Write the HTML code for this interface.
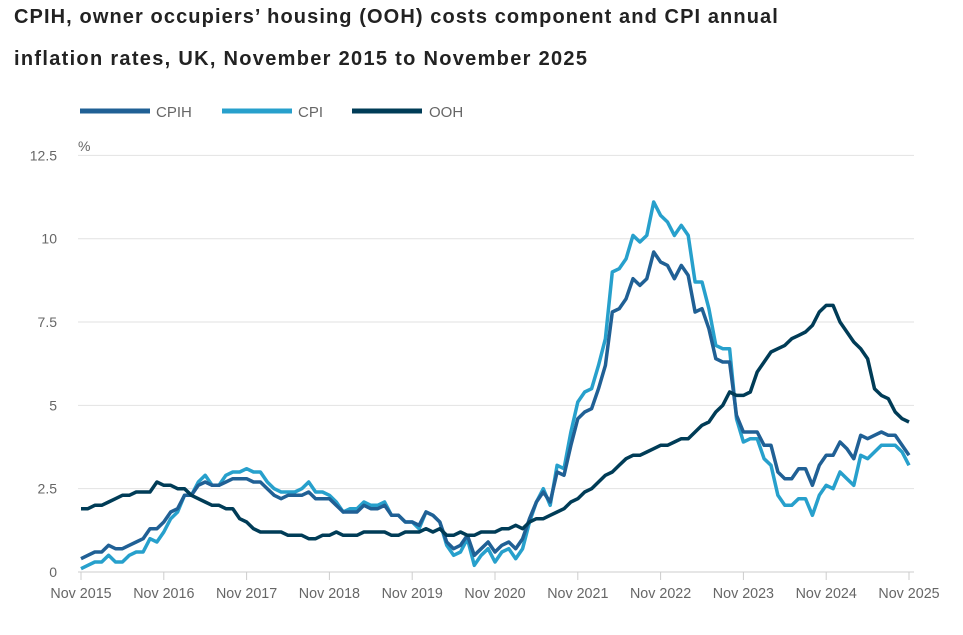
<!DOCTYPE html>
<html><head><meta charset="utf-8"><style>
body{margin:0;background:#fff;font-family:"Liberation Sans",sans-serif;}
.t{position:absolute;left:14px;font-weight:bold;font-size:20px;color:#222;letter-spacing:1.1px;}
</style></head><body>
<div class="t" style="top:6px">CPIH, owner occupiers’ housing (OOH) costs component and CPI annual</div>
<div class="t" style="top:48px;letter-spacing:1.3px">inflation rates, UK, November 2015 to November 2025</div>
<svg id="s" width="963" height="635" style="position:absolute;left:0;top:0" font-family="Liberation Sans, sans-serif">
<g stroke-width="5">
<line x1="80" y1="111" x2="150" y2="111" stroke="#206095"/>
<line x1="222" y1="111" x2="292" y2="111" stroke="#27a0cc"/>
<line x1="352" y1="111" x2="422" y2="111" stroke="#003c57"/>
</g>
<g font-size="15" fill="#666">
<text x="156" y="117">CPIH</text><text x="298" y="117">CPI</text><text x="429" y="117">OOH</text>
<text x="78" y="151" font-size="14">%</text>
</g>
</svg>
<script>
var s=document.getElementById('s'),NS='http://www.w3.org/2000/svg';
function el(t,a,txt){var e=document.createElementNS(NS,t);for(var k in a)e.setAttribute(k,a[k]);if(txt!=null)e.textContent=txt;s.appendChild(e);return e;}
var X0=81,XS=6.9,Y0=572,YS=33.33;
[0,2.5,5,7.5,10,12.5].forEach(function(v,i){var y=Y0-v*YS;
 el('line',{x1:78,x2:914,y1:y,y2:y,stroke:i?'#e2e2e2':'#ccc','stroke-width':1});
 el('text',{x:57,y:y+5,'text-anchor':'end','font-size':14,fill:'#666'},String(v));});
for(var i=0;i<=10;i++){var x=X0+i*12*XS;
 el('line',{x1:x,x2:x,y1:572,y2:580,stroke:'#ccc'});
 el('text',{x:x,y:598,'text-anchor':'middle','font-size':14.3,fill:'#666'},'Nov '+(2015+i));}
var cpi=[0.1,0.2,0.3,0.3,0.5,0.3,0.3,0.5,0.6,0.6,1.0,0.9,1.2,1.6,1.8,2.3,2.3,2.7,2.9,2.6,2.6,2.9,3.0,3.0,3.1,3.0,3.0,2.7,2.5,2.4,2.4,2.4,2.5,2.7,2.4,2.4,2.3,2.1,1.8,1.9,1.9,2.1,2.0,2.0,2.1,1.7,1.7,1.5,1.5,1.3,1.8,1.7,1.5,0.8,0.5,0.6,1.0,0.2,0.5,0.7,0.3,0.6,0.7,0.4,0.7,1.5,2.1,2.5,2.0,3.2,3.1,4.2,5.1,5.4,5.5,6.2,7.0,9.0,9.1,9.4,10.1,9.9,10.1,11.1,10.7,10.5,10.1,10.4,10.1,8.7,8.7,7.9,6.8,6.7,6.7,4.6,3.9,4.0,4.0,3.4,3.2,2.3,2.0,2.0,2.2,2.2,1.7,2.3,2.6,2.5,3.0,2.8,2.6,3.5,3.4,3.6,3.8,3.8,3.8,3.6,3.2];
var cpih=[0.4,0.5,0.6,0.6,0.8,0.7,0.7,0.8,0.9,1.0,1.3,1.3,1.5,1.8,1.9,2.3,2.3,2.6,2.7,2.6,2.6,2.7,2.8,2.8,2.8,2.7,2.7,2.5,2.3,2.2,2.3,2.3,2.3,2.4,2.2,2.2,2.2,2.0,1.8,1.8,1.8,2.0,1.9,1.9,2.0,1.7,1.7,1.5,1.5,1.4,1.8,1.7,1.5,0.9,0.7,0.8,1.1,0.5,0.7,0.9,0.6,0.8,0.9,0.7,1.0,1.6,2.1,2.4,2.1,3.0,2.9,3.8,4.6,4.8,4.9,5.5,6.2,7.8,7.9,8.2,8.8,8.6,8.8,9.6,9.3,9.2,8.8,9.2,8.9,7.8,7.9,7.3,6.4,6.3,6.3,4.7,4.2,4.2,4.2,3.8,3.8,3.0,2.8,2.8,3.1,3.1,2.6,3.2,3.5,3.5,3.9,3.7,3.4,4.1,4.0,4.1,4.2,4.1,4.1,3.8,3.5];
var ooh=[1.9,1.9,2.0,2.0,2.1,2.2,2.3,2.3,2.4,2.4,2.4,2.7,2.6,2.6,2.5,2.5,2.3,2.2,2.1,2.0,2.0,1.9,1.9,1.6,1.5,1.3,1.2,1.2,1.2,1.2,1.1,1.1,1.1,1.0,1.0,1.1,1.1,1.2,1.1,1.1,1.1,1.2,1.2,1.2,1.2,1.1,1.1,1.2,1.2,1.2,1.3,1.2,1.3,1.1,1.1,1.2,1.1,1.1,1.2,1.2,1.2,1.3,1.3,1.4,1.3,1.5,1.6,1.6,1.7,1.8,1.9,2.1,2.2,2.4,2.5,2.7,2.9,3.0,3.2,3.4,3.5,3.5,3.6,3.7,3.8,3.8,3.9,4.0,4.0,4.2,4.4,4.5,4.8,5.0,5.4,5.3,5.3,5.4,6.0,6.3,6.6,6.7,6.8,7.0,7.1,7.2,7.4,7.8,8.0,8.0,7.5,7.2,6.9,6.7,6.4,5.5,5.3,5.2,4.8,4.6,4.5];
function line(d,c){el('polyline',{points:d.map(function(v,i){return (X0+i*XS).toFixed(1)+','+(Y0-v*YS).toFixed(1)}).join(' '),fill:'none',stroke:c,'stroke-width':3.5,'stroke-linejoin':'round'});}
line(cpi,'#27a0cc');line(cpih,'#206095');line(ooh,'#003c57');
</script>
</body></html>
